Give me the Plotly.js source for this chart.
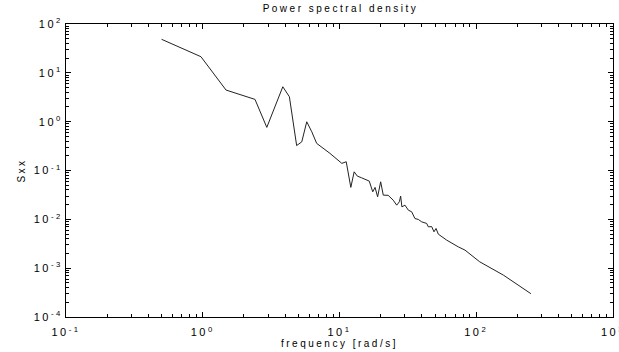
<!DOCTYPE html>
<html>
<head>
<meta charset="utf-8">
<script src="https://cdn.plot.ly/plotly-3.0.1.min.js"></script>
<style>
  html, body { margin: 0; padding: 0; background: #fff; }
  #chart { width: 619px; height: 352px; }
  #chart text { letter-spacing: 2.5px; }
</style>
</head>
<body>
<div id="chart"></div>
<script>
// Frequency [rad/s]
const frequency = [0.50, 0.97, 1.48, 2.41, 2.94, 3.85, 4.30, 4.86, 5.30, 5.76, 6.27, 6.81,
  8.52, 9.80, 10.4, 11.2, 12.1, 12.8, 13.5, 14.5, 16.5, 17.5, 18.2, 19.0, 20.0, 20.9,
  22.7, 24.7, 26.2, 27.4, 28.0, 28.6, 30.1, 31.9, 33.7, 35.6, 37.7, 39.9, 43.4, 44.6,
  47.2, 49.1, 50.8, 52.8, 60.8, 73.9, 82.8, 106, 158, 251];
// Power spectral density Sxx
const sxx = [48.6, 21.4, 4.44, 2.86, 0.764, 5.19, 3.24, 0.324, 0.387, 0.995, 0.621, 0.359,
  0.224, 0.163, 0.140, 0.151, 0.0451, 0.094, 0.0768, 0.0709, 0.0607, 0.0366, 0.0451, 0.0289, 0.0587, 0.0313,
  0.031, 0.0247, 0.0195, 0.0229, 0.0299, 0.0180, 0.0195, 0.0154, 0.0143, 0.0104, 0.00995, 0.00889, 0.00824, 0.00702,
  0.0071, 0.00555, 0.00651, 0.00497, 0.00375, 0.00273, 0.00234, 0.00135, 0.00072, 0.0003];

const xTickVals = [0.1, 1, 10, 100, 1000];
const xTickText = ['10<sup>-1</sup>', '10<sup>0</sup>', '10<sup>1</sup>', '10<sup>2</sup>', '10<sup>3</sup>'];
const yTickVals = [1e-4, 1e-3, 1e-2, 1e-1, 1, 10, 100];
const yTickText = ['10<sup>-4</sup>', '10<sup>-3</sup>', '10<sup>-2</sup>', '10<sup>-1</sup>', '10<sup>0</sup>', '10<sup>1</sup>', '10<sup>2</sup>'];

const fontFam = '"Liberation Sans", Arial, sans-serif';

const trace = {
  x: frequency, y: sxx, type: 'scatter', mode: 'lines',
  line: { color: '#222', width: 1 },
  hoverinfo: 'skip'
};

const axisCommon = {
  type: 'log',
  showgrid: false, zeroline: false,
  showline: true, linecolor: '#000', linewidth: 1,
  mirror: 'ticks', ticks: 'inside', ticklen: 5, tickwidth: 1, tickcolor: '#000',
  tickmode: 'array',
  ticklabeloverflow: 'allow',
  tickfont: { family: fontFam, size: 11, color: '#000' },
  minor: { dtick: 'D1', ticks: 'inside', ticklen: 3, tickcolor: '#000', tickwidth: 1, showgrid: false }
};

const layout = {
  width: 619, height: 352,
  margin: { l: 66, r: 6, t: 24, b: 35 },
  paper_bgcolor: '#fff', plot_bgcolor: '#fff',
  showlegend: false,
  font: { family: fontFam, color: '#000' },
  title: { text: 'Power spectral density', font: { family: fontFam, size: 10, color: '#000' },
           x: 0.55, xanchor: 'center', y: 0.975, yanchor: 'middle' },
  xaxis: Object.assign({}, axisCommon, {
    range: [-1, 3], tickvals: xTickVals, ticktext: xTickText,
    ticklabelstandoff: 5,
    title: { text: 'frequency [rad/s]', font: { family: fontFam, size: 10, color: '#000' }, standoff: 2 }
  }),
  yaxis: Object.assign({}, axisCommon, {
    range: [-4, 2], tickvals: yTickVals, ticktext: yTickText,
    title: { text: 'Sxx', font: { family: fontFam, size: 10, color: '#000' }, standoff: 16 }
  })
};

Plotly.newPlot('chart', [trace], layout, { staticPlot: true, displayModeBar: false });
</script>
</body>
</html>
